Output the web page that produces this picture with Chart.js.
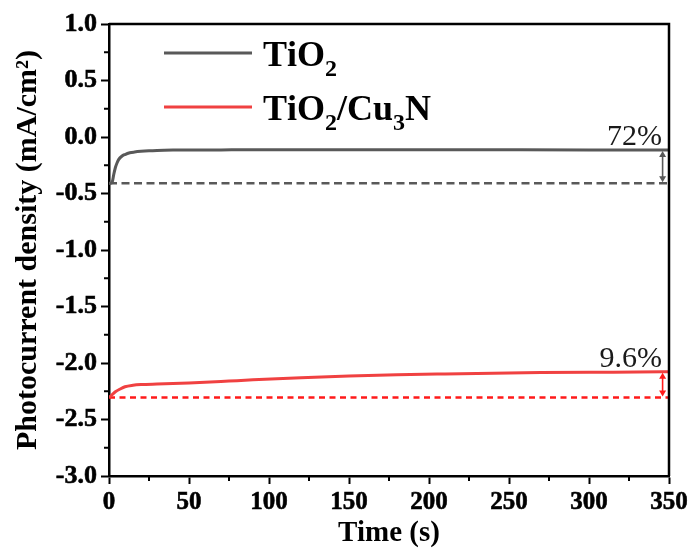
<!DOCTYPE html>
<html>
<head>
<meta charset="utf-8">
<script src="https://cdn.jsdelivr.net/npm/chart.js@4.4.1/dist/chart.umd.min.js"></script>
<style>
  html, body { margin: 0; padding: 0; background: #fff; }
  #wrap { width: 692px; height: 556px; }
</style>
</head>
<body>
<div id="wrap"><canvas id="photo" width="692" height="556"></canvas></div>
<script>
// values
var timeTiO2 = [0, 1, 2, 3, 4, 5, 6, 8, 10, 13, 16, 20, 25, 30, 40, 50, 70, 100, 150, 200, 250, 300, 350];
var currentTiO2 = [-0.41, -0.41, -0.40, -0.33, -0.27, -0.23, -0.20, -0.17, -0.155, -0.14, -0.133, -0.127, -0.122, -0.119, -0.116, -0.115, -0.114, -0.113, -0.113, -0.113, -0.113, -0.114, -0.115];

var timeCu3N = [0, 2, 4, 7, 10, 15, 20, 30, 40, 50, 60, 75, 90, 105, 120, 150, 180, 210, 240, 270, 300, 330, 350];
var currentCu3N = [-2.305, -2.28, -2.255, -2.23, -2.21, -2.197, -2.191, -2.186, -2.182, -2.177, -2.171, -2.16, -2.149, -2.139, -2.13, -2.116, -2.105, -2.097, -2.09, -2.085, -2.082, -2.08, -2.078];

// initial-level reference lines and decay labels
var refTimes = [0, 350];
var refTiO2 = [-0.41, -0.41];
var refCu3N = [-2.305, -2.305];
var decayLabels = ['72%', '9.6%'];

var seriesLabels = ['TiO\u2082', 'TiO\u2082/Cu\u2083N'];
var xTicks = [0, 50, 100, 150, 200, 250, 300, 350];
var yTicks = [-3.0, -2.5, -2.0, -1.5, -1.0, -0.5, 0.0, 0.5, 1.0];

var GRAY = '#595959';
var RED = '#f04141';
var RED_DASH = '#ff1a1a';
var SERIF = '"Liberation Serif", "Times New Roman", serif';

function pts(xs, ys) {
  return xs.map(function(x, i) { return { x: x, y: ys[i] }; });
}

var SUBS = { '\u2080': '0', '\u2081': '1', '\u2082': '2', '\u2083': '3', '\u2084': '4' };

// draws text with unicode subscripts as smaller, lowered digits
function drawRich(ctx, text, x, y, size) {
  var subSize = Math.round(size * 0.68);
  ctx.textAlign = 'left';
  ctx.textBaseline = 'alphabetic';
  for (var i = 0; i < text.length; i++) {
    var ch = text[i];
    if (SUBS[ch]) {
      ctx.font = 'bold ' + subSize + 'px ' + SERIF;
      ctx.fillText(SUBS[ch], x, y + size * 0.28);
      x += ctx.measureText(SUBS[ch]).width;
    } else {
      ctx.font = 'bold ' + size + 'px ' + SERIF;
      ctx.fillText(ch, x, y);
      x += ctx.measureText(ch).width;
    }
  }
}

function arrow(ctx, x, y1, y2, color) {
  var h = 6, w = 3.5;
  ctx.save();
  ctx.strokeStyle = color;
  ctx.fillStyle = color;
  ctx.lineWidth = 1.6;
  ctx.beginPath();
  ctx.moveTo(x, y1 + h - 1);
  ctx.lineTo(x, y2 - h + 1);
  ctx.stroke();
  ctx.beginPath();
  ctx.moveTo(x, y1); ctx.lineTo(x - w, y1 + h); ctx.lineTo(x + w, y1 + h); ctx.closePath();
  ctx.fill();
  ctx.beginPath();
  ctx.moveTo(x, y2); ctx.lineTo(x - w, y2 - h); ctx.lineTo(x + w, y2 - h); ctx.closePath();
  ctx.fill();
  ctx.restore();
}

var overlay = {
  id: 'overlay',
  afterDraw: function(chart) {
    var ctx = chart.ctx;
    var a = chart.chartArea;
    var xs = chart.scales.x, ys = chart.scales.y;

    // frame on top and right
    ctx.save();
    ctx.strokeStyle = '#000';
    ctx.lineWidth = 2.5;
    ctx.beginPath();
    ctx.moveTo(a.left, a.top);
    ctx.lineTo(a.right, a.top);
    ctx.lineTo(a.right, a.bottom);
    ctx.stroke();

    // minor ticks halfway between majors
    ctx.lineWidth = 2;
    ctx.beginPath();
    for (var i = 0; i < xTicks.length - 1; i++) {
      var px = xs.getPixelForValue((xTicks[i] + xTicks[i + 1]) / 2);
      ctx.moveTo(px, a.bottom);
      ctx.lineTo(px, a.bottom + 5);
    }
    for (var j = 0; j < yTicks.length - 1; j++) {
      var py = ys.getPixelForValue((yTicks[j] + yTicks[j + 1]) / 2);
      ctx.moveTo(a.left, py);
      ctx.lineTo(a.left - 5, py);
    }
    ctx.stroke();
    ctx.restore();

    // decay arrows and labels
    var ax = xs.getPixelForValue(346);
    var groups = [
      { top: currentTiO2[currentTiO2.length - 1], base: refTiO2[0], color: GRAY, text: decayLabels[0] },
      { top: currentCu3N[currentCu3N.length - 1], base: refCu3N[0], color: RED_DASH, text: decayLabels[1] }
    ];
    groups.forEach(function(g) {
      var t = ys.getPixelForValue(g.top);
      var b = ys.getPixelForValue(g.base);
      arrow(ctx, ax, t + 1, b - 1, g.color);
      ctx.save();
      ctx.fillStyle = '#1a1a1a';
      ctx.font = '30px ' + SERIF;
      ctx.textAlign = 'right';
      ctx.textBaseline = 'alphabetic';
      ctx.fillText(g.text, a.right - 7, t - 5);
      ctx.restore();
    });

    // legend
    var rows = [
      { y: 53, color: GRAY, label: chart.data.datasets[0].label },
      { y: 107, color: RED, label: chart.data.datasets[1].label }
    ];
    ctx.save();
    ctx.fillStyle = '#000';
    rows.forEach(function(r) {
      ctx.strokeStyle = r.color;
      ctx.lineWidth = 3;
      ctx.beginPath();
      ctx.moveTo(164, r.y);
      ctx.lineTo(252, r.y);
      ctx.stroke();
      drawRich(ctx, r.label, 263, r.y + 13, 36);
    });
    ctx.restore();
  }
};

var ctxPhoto = document.getElementById('photo');
var photoChart = new Chart(ctxPhoto, {
  type: 'line',
  data: {
    datasets: [
      {
        label: seriesLabels[0],
        data: pts(timeTiO2, currentTiO2),
        borderColor: GRAY,
        borderWidth: 3,
        pointRadius: 0,
        cubicInterpolationMode: 'monotone'
      },
      {
        label: seriesLabels[1],
        data: pts(timeCu3N, currentCu3N),
        borderColor: RED,
        borderWidth: 3,
        pointRadius: 0,
        cubicInterpolationMode: 'monotone'
      },
      {
        label: 'TiO2 initial',
        data: pts(refTimes, refTiO2),
        borderColor: GRAY,
        borderWidth: 2.5,
        borderDash: [8, 4.5],
        pointRadius: 0
      },
      {
        label: 'TiO2/Cu3N initial',
        data: pts(refTimes, refCu3N),
        borderColor: RED_DASH,
        borderWidth: 2.5,
        borderDash: [6, 4.5],
        pointRadius: 0
      }
    ]
  },
  options: {
    responsive: false,
    animation: false,
    events: [],
    layout: { padding: { left: 0, top: 24, right: 23, bottom: 0 } },
    plugins: {
      legend: { display: false },
      tooltip: { enabled: false }
    },
    scales: {
      x: {
        type: 'linear',
        min: 0,
        max: 350,
        afterFit: function(scale) { scale.height = 80; },
        afterBuildTicks: function(scale) {
          scale.ticks = xTicks.map(function(v) { return { value: v }; });
        },
        border: { display: true, color: '#000', width: 2.5 },
        grid: { drawOnChartArea: false, drawTicks: true, tickLength: 8, tickWidth: 2, tickColor: '#000' },
        ticks: {
          color: '#000',
          padding: 4,
          maxRotation: 0,
          textStrokeColor: '#000',
          textStrokeWidth: 0.6,
          font: { family: SERIF, size: 25, weight: 'bold' },
          callback: function(v) { return String(v); }
        },
        title: {
          display: true,
          text: 'Time (s)',
          color: '#000',
          padding: { top: 0, bottom: 5 },
          font: { family: SERIF, size: 29, weight: 'bold' }
        }
      },
      y: {
        min: -3,
        max: 1,
        afterFit: function(scale) { scale.width = 109; },
        afterBuildTicks: function(scale) {
          scale.ticks = yTicks.map(function(v) { return { value: v }; });
        },
        border: { display: true, color: '#000', width: 2.5 },
        grid: { drawOnChartArea: false, drawTicks: true, tickLength: 8, tickWidth: 2, tickColor: '#000' },
        ticks: {
          color: '#000',
          padding: 4,
          textStrokeColor: '#000',
          textStrokeWidth: 0.6,
          font: { family: SERIF, size: 26, weight: 'bold' },
          callback: function(v) { return Number(v).toFixed(1); }
        },
        title: {
          display: true,
          text: 'Photocurrent density (mA/cm\u00b2)',
          color: '#000',
          padding: { top: 10, bottom: 0 },
          font: { family: SERIF, size: 30, weight: 'bold' }
        }
      }
    }
  },
  plugins: [overlay]
});
</script>
</body>
</html>
